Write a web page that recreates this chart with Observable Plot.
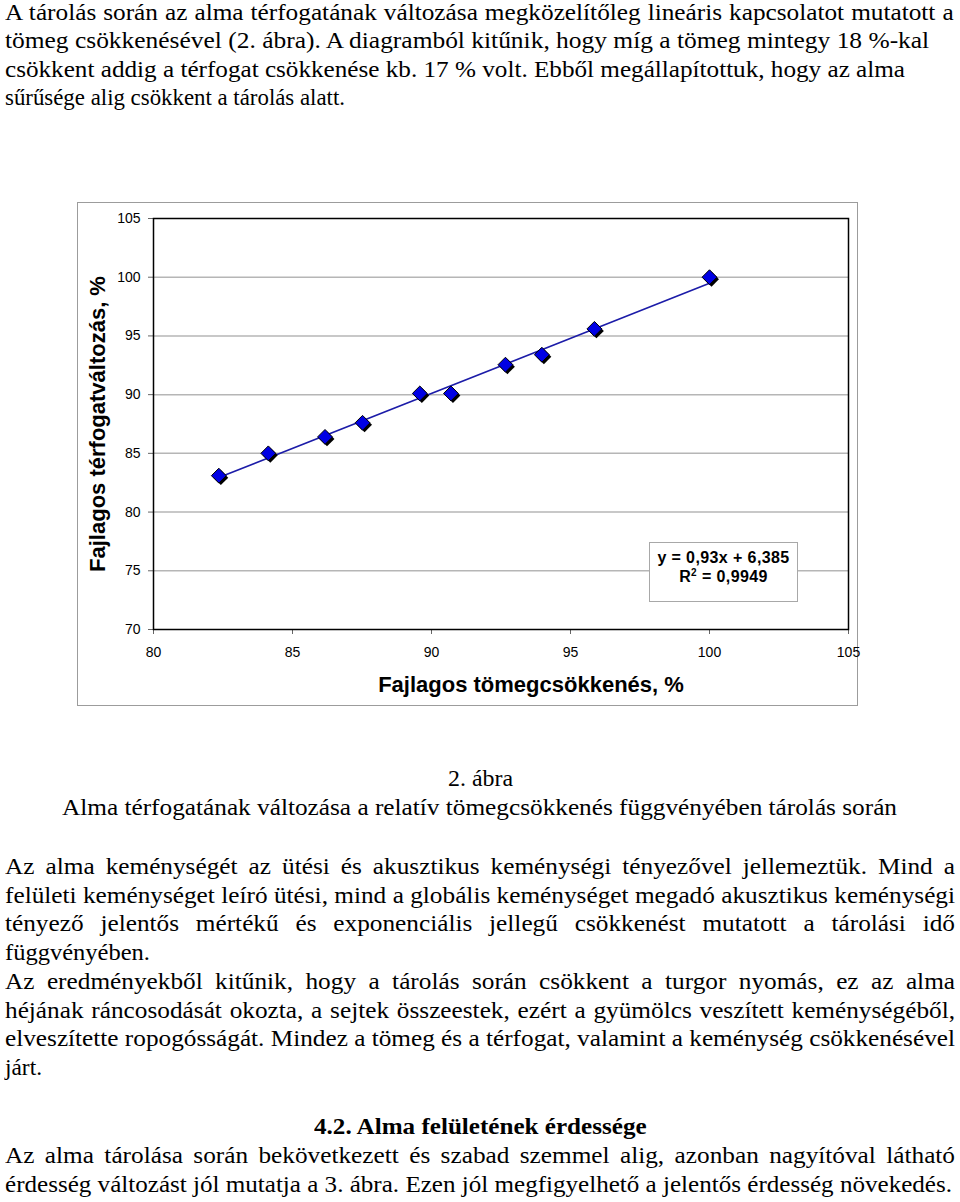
<!DOCTYPE html>
<html><head><meta charset="utf-8">
<script src="https://cdn.jsdelivr.net/npm/d3@7"></script>
<script src="https://cdn.jsdelivr.net/npm/@observablehq/plot@0.6"></script>
<style>
html,body{margin:0;padding:0;background:#fff}
body{width:960px;height:1202px;position:relative;overflow:hidden;color:#000}
.ln{position:absolute;white-space:nowrap;line-height:28px;font-size:24px}
.ln span{display:inline-block;white-space:nowrap;transform-origin:0 50%}
#chart{position:absolute;left:77px;top:202px;width:779px;height:502px;border:1px solid #9c9c9c;background:#fff}
#chart svg{display:block}
#eq{position:absolute;left:649px;top:542px;width:149px;height:60px;box-sizing:border-box;border:1px solid #a8a8a8;background:#fff;
font-weight:bold;font-size:16px;letter-spacing:0.4px;text-align:center;line-height:18.5px;padding-top:6px;color:#000}
#eq sup{font-size:10px;line-height:0;vertical-align:6px}
</style></head><body>
<div id="chart"></div>
<div id="eq"></div>
<script>
// ---- chart data ----
const massLoss     = [82.35, 84.13, 86.17, 87.52, 89.58, 90.70, 92.66, 93.97, 95.86, 100.0];
const volumeChange = [83.1, 85.0, 86.4, 87.6, 90.1, 90.1, 92.55, 93.4, 95.6, 100.0];
const xTicks = [80, 85, 90, 95, 100, 105];
const yTicks = [70, 75, 80, 85, 90, 95, 100, 105];
const xLabel = "Fajlagos tömegcsökkenés, %";
const yLabel = "Fajlagos térfogatváltozás, %";
const eqLine1 = "y = 0,93x + 6,385";
const eqLine2a = "R", eqLine2sup = "2", eqLine2b = " = 0,9949";

// ---- page text ----
const topPara = [
  "A tárolás során az alma térfogatának változása megközelítőleg lineáris kapcsolatot mutatott a",
  "tömeg csökkenésével (2. ábra). A diagramból kitűnik, hogy míg a tömeg mintegy 18 %-kal",
  "csökkent addig a térfogat csökkenése kb. 17 % volt. Ebből megállapítottuk, hogy az alma",
  "sűrűsége alig csökkent a tárolás alatt."
];
const captionNo = "2. ábra";
const captionText = "Alma térfogatának változása a relatív tömegcsökkenés függvényében tárolás során";
const para2 = [
  "Az alma keménységét az ütési és akusztikus keménységi tényezővel jellemeztük. Mind a",
  "felületi keménységet leíró ütési, mind a globális keménységet megadó akusztikus keménységi",
  "tényező jelentős mértékű és exponenciális jellegű csökkenést mutatott a tárolási idő",
  "függvényében."
];
const para3 = [
  "Az eredményekből kitűnik, hogy a tárolás során csökkent a turgor nyomás, ez az alma",
  "héjának ráncosodását okozta, a sejtek összeestek, ezért a gyümölcs veszített keménységéből,",
  "elveszítette ropogósságát. Mindez a tömeg és a térfogat, valamint a keménység csökkenésével",
  "járt."
];
const heading = "4.2. Alma felületének érdessége";
const para4 = [
  "Az alma tárolása során bekövetkezett és szabad szemmel alig, azonban nagyítóval látható",
  "érdesség változást jól mutatja a 3. ábra. Ezen jól megfigyelhető a jelentős érdesség növekedés."
];

// ---- page layout: [text, baseline y, right edge or [left,right], mode, bold] ----
const layout = [
  [topPara[0], 19.5, 955, "justify"],
  [topPara[1], 48, 932, "fit"],
  [topPara[2], 76.5, 905, "fit"],
  [topPara[3], 105, 345, "fit"],
  [captionNo, 786, [448, 513], "center"],
  [captionText, 815, [62, 897], "center"],
  [para2[0], 874, 955, "justify"],
  [para2[1], 902.5, 955, "justify"],
  [para2[2], 931, 955, "justify"],
  [para2[3], 960, 150, "fit"],
  [para3[0], 989, 955, "justify"],
  [para3[1], 1017.5, 955, "justify"],
  [para3[2], 1046, 955, "justify"],
  [para3[3], 1074.5, 42, "fit"],
  [heading, 1134, [314, 648], "center", true],
  [para4[0], 1163, 955, "justify"],
  [para4[1], 1192, 952, "fit"]
];
const SERIF = '"Liberation Serif", "Times New Roman", Tinos, serif';
const SANS = '"Liberation Sans", Arial, Arimo, sans-serif';
const FS = 24, LEFT = 5;
const ctx = document.createElement("canvas").getContext("2d");
function measure(text, bold) { ctx.font = `${bold ? "bold " : ""}${FS}px ${SERIF}`; return ctx.measureText(text).width; }
const S = (897 - 62) / measure(captionText, false);   // glyph stretch of the page font

for (const [text, base, right, mode, bold] of layout) {
  const d = document.createElement("div");
  d.className = "ln";
  d.style.fontFamily = SERIF;
  d.style.top = (base - 22) + "px";
  if (bold) d.style.fontWeight = "bold";
  const s = document.createElement("span");
  s.textContent = text;
  d.appendChild(s);
  document.body.appendChild(d);
  const nat = measure(text, bold);
  let left = LEFT, g = S;
  if (mode === "center") {
    left = right[0]; g = (right[1] - right[0]) / nat;
  } else if (mode === "fit") {
    g = (right - LEFT) / nat;
  } else if (mode === "justify") {
    const target = right - LEFT;
    g = Math.min(S, target / nat);
    const spaces = (text.match(/ /g) || []).length;
    if (spaces > 0) {
      const ws = (target / g - nat) / spaces;
      if (ws > 0.01) s.style.wordSpacing = ws + "px";
    }
  }
  d.style.left = left + "px";
  s.style.transform = `scaleX(${g})`;
}

// ---- chart ----
const data = massLoss.map((x, i) => ({x, y: volumeChange[i]}));
const chart = Plot.plot({
  width: 779, height: 502,
  marginLeft: 75, marginTop: 15, marginRight: 9, marginBottom: 76,
  style: `font-family:${SANS.replace(/"/g, "'")};font-size:14px;color:#000;background:#fff;overflow:visible`,
  x: {domain: [80, 105], label: null},
  y: {domain: [70, 105], label: null},
  marks: [
    Plot.gridY(yTicks.filter(v => v > 70 && v < 105), {stroke: "#b6b6b6", strokeOpacity: 1, strokeWidth: 1.5}),
    Plot.axisX(xTicks, {tickSize: 5, tickPadding: 13, stroke: "#666", fill: "#000", fontSize: 14, tickFormat: d => String(d)}),
    Plot.axisY(yTicks, {tickSize: 5, tickPadding: 8, stroke: "#666", fill: "#000", fontSize: 14, tickFormat: d => String(d)}),
    Plot.frame({stroke: "#000", strokeWidth: 1.5}),
    Plot.linearRegressionY(data, {x: "x", y: "y", ci: 0, stroke: "#1c1ca8", strokeWidth: 1.6}),
    Plot.dot(data, {x: "x", y: "y", symbol: "diamond2", r: 6.7, fill: "#000", dx: 2, dy: 2}),
    Plot.dot(data, {x: "x", y: "y", symbol: "diamond2", r: 6.7, fill: "#0000e4", stroke: "#000", strokeWidth: 1}),
    Plot.text([xLabel], {frameAnchor: "bottom", textAnchor: "middle", dx: 30, dy: 55, lineAnchor: "middle", fontSize: 22, fontWeight: "bold", fill: "#000"}),
    Plot.text([yLabel], {frameAnchor: "left", textAnchor: "middle", rotate: -90, dx: -56, lineAnchor: "middle", fontSize: 22, fontWeight: "bold", fill: "#000"})
  ]
});
document.getElementById("chart").appendChild(chart);

const eq = document.getElementById("eq");
eq.style.fontFamily = SANS;
const l1 = document.createElement("div"); l1.textContent = eqLine1;
const l2 = document.createElement("div");
l2.append(eqLine2a);
const sup = document.createElement("sup"); sup.textContent = eqLine2sup; l2.append(sup);
l2.append(eqLine2b);
eq.append(l1, l2);
</script>
</body></html>
